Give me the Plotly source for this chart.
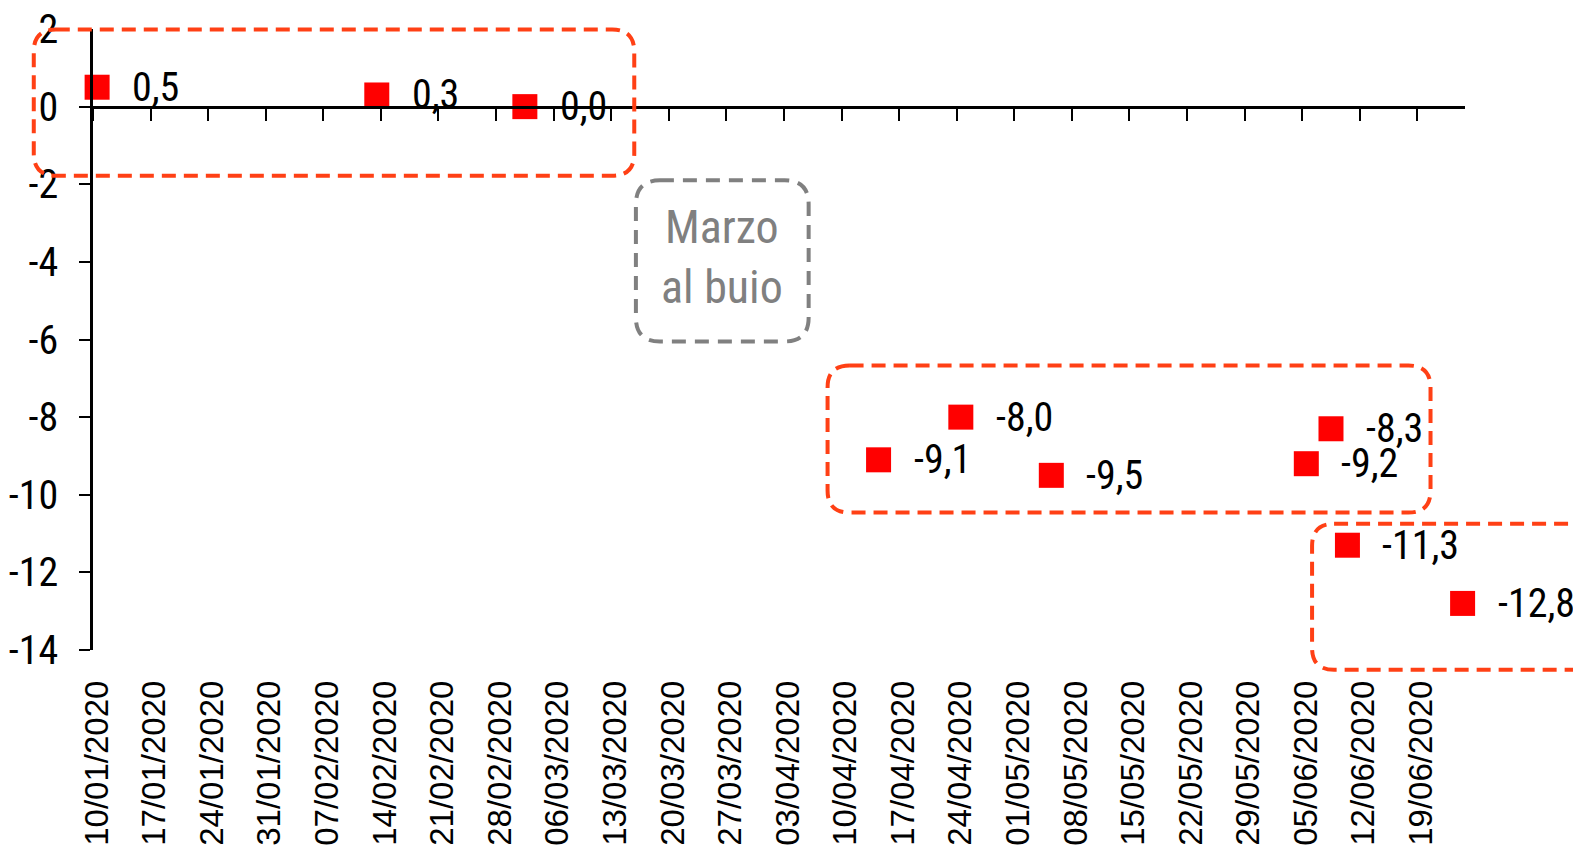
import pandas as pd
import plotly.graph_objects as go

# Survey readings (date of release, value)
dates = ["10/01/2020", "13/02/2020", "02/03/2020", "14/04/2020", "24/04/2020",
         "05/05/2020", "05/06/2020", "08/06/2020", "10/06/2020", "24/06/2020"]
values = [0.5, 0.3, 0.0, -9.1, -8.0, -9.5, -9.2, -8.3, -11.3, -12.8]

# Axis settings
axis_start = "2020-01-10"
axis_end = "2020-06-24 19:00"
first_tick = "2020-01-10"
last_tick = "2020-06-19"
y_ticks = [2, 0, -2, -4, -6, -8, -10, -12, -14]
y_min, y_max = -14, 2

note_text = "Marzo<br>al buio"

# Highlight frames: (day offset from axis start -> x0, x1, y0, y1, colour)
frames = [
    (-7.2, 65.8, -1.78, 1.985, "#FF4015"),
    (89.3, 162.6, -10.46, -6.67, "#FF4015"),
    (148.2, 190.0, -14.51, -10.75, "#FF4015"),
]
note_frame = (66.0, 87.0, -6.05, -1.90, "#808080")

NARROW = "Liberation Sans Narrow, Arial Narrow, Roboto Condensed, Arial, sans-serif"
REGULAR = "Liberation Sans, Arial, sans-serif"

W, H = 1573, 847
ML, MR, MT, MB = 93, 108, 29, 197
PW, PH = W - ML - MR, H - MT - MB

t0 = pd.Timestamp(axis_start)
t1 = pd.Timestamp(axis_end)
span_days = (t1 - t0) / pd.Timedelta(days=1)

# points sit in the middle of their day slot
x = pd.to_datetime(dates, format="%d/%m/%Y") + pd.Timedelta(hours=12)
week_ticks = pd.date_range(first_tick, last_tick, freq="7D")
week_labels = [d.strftime("%d/%m/%Y") for d in week_ticks]


def xp(day):
    return day / span_days


def yp(v):
    return (v - y_min) / (y_max - y_min)


def rounded_path(x0, x1, y0, y1, r_px):
    a, b = xp(x0), xp(x1)
    c, d = yp(y0), yp(y1)
    rx, ry = r_px / PW, r_px / PH
    return (f"M {a+rx},{d} L {b-rx},{d} Q {b},{d} {b},{d-ry} "
            f"L {b},{c+ry} Q {b},{c} {b-rx},{c} "
            f"L {a+rx},{c} Q {a},{c} {a},{c+ry} "
            f"L {a},{d-ry} Q {a},{d} {a+rx},{d} Z")


fig = go.Figure()

fig.add_trace(go.Scatter(
    x=x, y=values, mode="markers",
    marker=dict(symbol="square", size=25, color="#FF0000"),
    cliponaxis=False, showlegend=False, hoverinfo="x+y",
))

# companion axis carrying the tick marks along the zero line
fig.add_trace(go.Scatter(
    x=x, y=values, mode="markers", xaxis="x2",
    marker=dict(opacity=0), showlegend=False, hoverinfo="skip",
))

annotations = []
for xi, v in zip(x, values):
    annotations.append(dict(
        x=xi, y=v, xref="x", yref="y", text=f"{v:.1f}".replace(".", ","),
        showarrow=False, xanchor="left", yanchor="middle", xshift=33, yshift=0,
        font=dict(family=NARROW, size=40, color="#000000"),
    ))

nx0, nx1, ny0, ny1, ncol = note_frame
annotations.append(dict(
    x=xp((nx0 + nx1) / 2), y=yp((ny0 + ny1) / 2) + 0.006, xref="paper", yref="paper",
    text=note_text, showarrow=False, xanchor="center", yanchor="middle",
    font=dict(family=NARROW, size=46, color="#808080"),
))

shapes = []
for fx0, fx1, fy0, fy1, col in frames:
    shapes.append(dict(
        type="path", xref="paper", yref="paper",
        path=rounded_path(fx0, fx1, fy0, fy1, 22),
        line=dict(color=col, width=4, dash="14px,8px"),
        layer="above",
    ))
shapes.append(dict(
    type="path", xref="paper", yref="paper",
    path=rounded_path(nx0, nx1, ny0, ny1, 24),
    line=dict(color=ncol, width=4, dash="14px,9px"),
    layer="above",
))

fig.update_layout(
    width=W, height=H,
    margin=dict(l=ML, r=MR, t=MT, b=MB, pad=0, autoexpand=False),
    plot_bgcolor="white", paper_bgcolor="white",
    showlegend=False,
    xaxis=dict(
        type="date", range=[axis_start, axis_end], automargin=False,
        tickmode="array", tickvals=week_ticks, ticktext=week_labels,
        tickangle=-90, ticks="", showline=False, showgrid=False, zeroline=False,
        tickfont=dict(family=REGULAR, size=33, color="#000000"),
        ticklabelstandoff=23, ticklabelshift=4,
    ),
    xaxis2=dict(
        type="date", overlaying="x", matches="x", anchor="free",
        position=yp(0), side="bottom", automargin=False,
        tickmode="array", tickvals=week_ticks,
        ticks="outside", ticklen=12, tickwidth=2,
        tickcolor="#000000", showticklabels=False, showline=True,
        linecolor="#000000", linewidth=3, showgrid=False, zeroline=False,
    ),
    yaxis=dict(
        range=[y_min, y_max], tickvals=y_ticks, automargin=False,
        ticktext=[str(v) for v in y_ticks],
        ticks="outside", ticklen=11, tickwidth=2, tickcolor="#000000",
        showline=True, linecolor="#000000", linewidth=2.5,
        showgrid=False, zeroline=False,
        tickfont=dict(family=NARROW, size=40, color="#000000"),
        ticklabelstandoff=13,
    ),
    shapes=shapes,
    annotations=annotations,
)

fig.write_html("out.html")
